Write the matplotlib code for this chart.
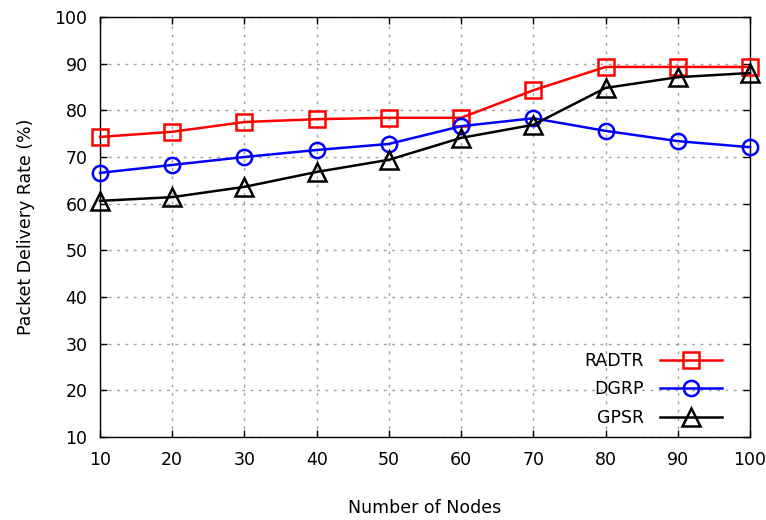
import matplotlib
matplotlib.use("Agg")
import matplotlib.pyplot as plt

plt.rcParams['font.family'] = ['DejaVu Sans']

nodes = [10, 20, 30, 40, 50, 60, 70, 80, 90, 100]
radtr = [74.3, 75.4, 77.5, 78.1, 78.4, 78.4, 84.3, 89.3, 89.3, 89.3]
dgrp = [66.6, 68.3, 70.0, 71.5, 72.8, 76.6, 78.3, 75.6, 73.4, 72.1]
gpsr = [60.6, 61.4, 63.6, 66.8, 69.4, 74.1, 76.9, 84.8, 87.1, 88.0]
series = [("RADTR", radtr, "#ff0000", "s", 12),
          ("DGRP", dgrp, "#0000ff", "o", 11),
          ("GPSR", gpsr, "#000000", "^", 13)]

fig = plt.figure(figsize=(7.66, 5.2), dpi=100)
ax = fig.add_axes([100/766, 1-437/520, 650/766, 420/520])

for name, vals, col, mk, ms in series:
    ax.plot(nodes, vals, color=col, lw=1.8, marker=mk, markersize=ms,
            markerfacecolor='none', markeredgecolor=col, markeredgewidth=1.8, label=name,
            clip_on=False, zorder=3)

ax.set_xlim(10, 100)
ax.set_ylim(10, 100)
ax.set_xticks(nodes)
ax.set_yticks(range(10, 101, 10))
ax.tick_params(direction='in', top=True, right=True, labelsize=12.5, length=5, width=1)
ax.tick_params(axis='x', pad=10)
ax.tick_params(axis='y', pad=9)
ax.grid(True, color='#a0a0a0', linestyle=(0, (2, 4)), linewidth=1)
for s in ax.spines.values():
    s.set_linewidth(1)
ax.set_xlabel("Number of Nodes", fontsize=12.5, labelpad=22)
ax.set_ylabel("Packet Delivery Rate (%)", fontsize=12.5, labelpad=14)

leg = ax.legend(loc='lower right', bbox_to_anchor=(0.981, -0.013), frameon=False, markerfirst=False,
                fontsize=12.5, handlelength=3.6, labelspacing=0.6, handletextpad=0.9)

fig.savefig("out.png", dpi=100)
